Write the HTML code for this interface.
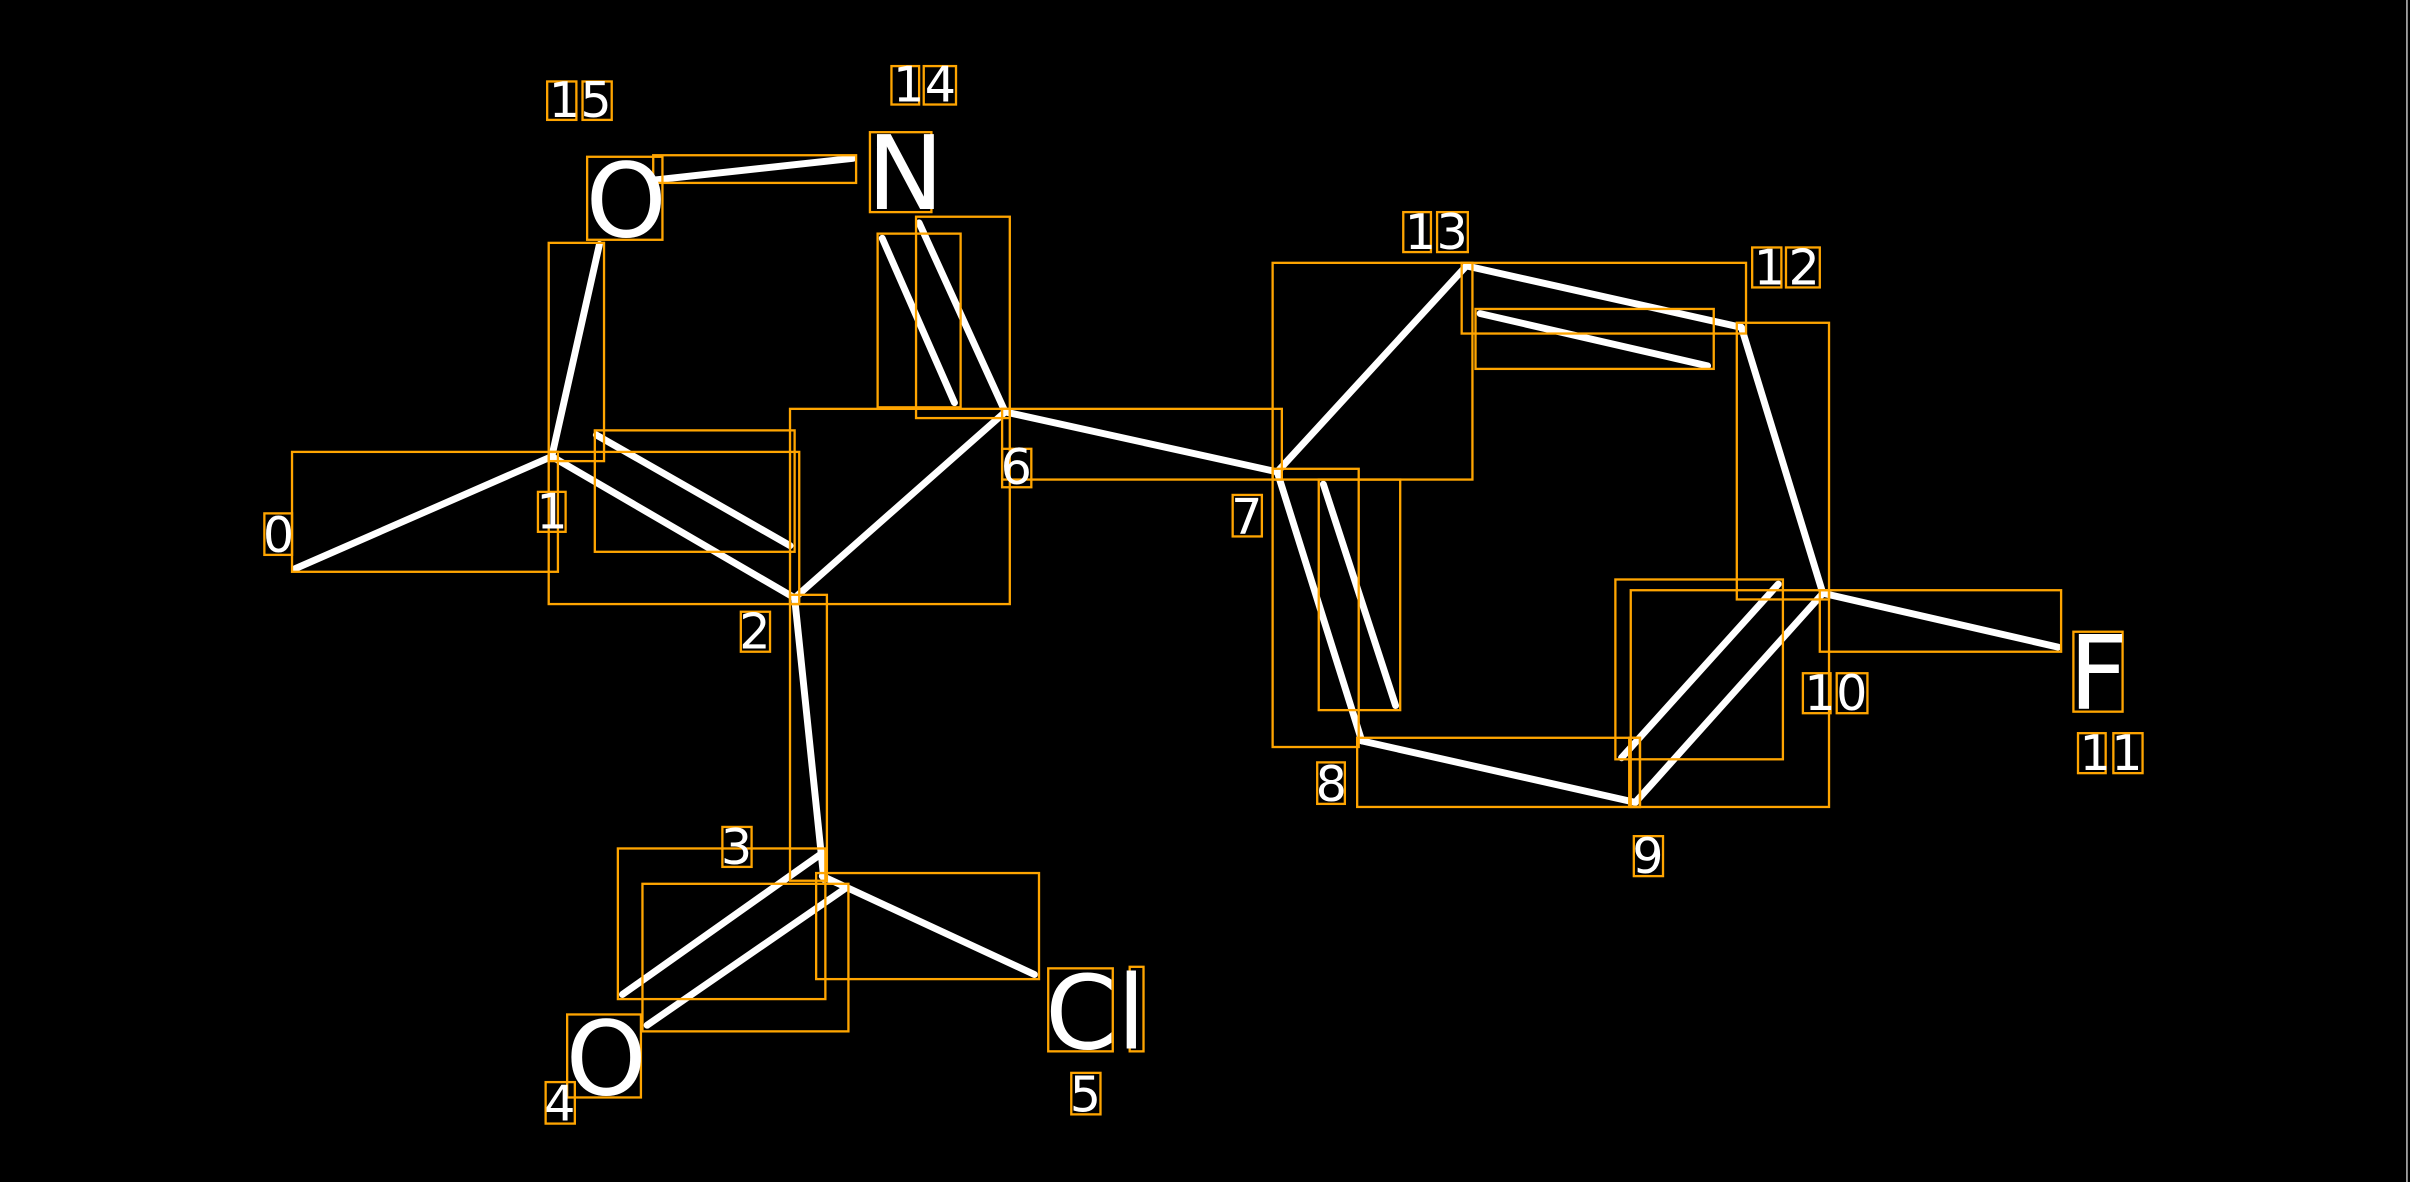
<!DOCTYPE html>
<html><head><meta charset="utf-8"><style>
html,body{margin:0;padding:0;background:#000;}
svg{display:block;}
text{font-family:"DejaVu Sans","Liberation Sans",sans-serif;fill:#fff;}
</style></head><body>
<svg width="2410" height="1182" viewBox="0 0 1568 769" preserveAspectRatio="none" xmlns="http://www.w3.org/2000/svg">
<rect width="1568" height="769" fill="#000"/>
<line x1="1566" y1="0" x2="1566" y2="769" stroke="#bbb" stroke-width="1"/>
<g stroke="#fff" stroke-width="4.5" stroke-linecap="round">
<line x1="192" y1="370" x2="359" y2="297"/>
<line x1="359" y1="297" x2="390" y2="159"/>
<line x1="427" y1="117" x2="555" y2="103"/>
<line x1="598" y1="145" x2="654" y2="268"/>
<line x1="574" y1="155" x2="621" y2="262"/>
<line x1="654" y1="268" x2="517" y2="389"/>
<line x1="359" y1="297" x2="517" y2="389"/>
<line x1="388" y1="283" x2="514" y2="355"/>
<line x1="517" y1="389" x2="536" y2="572"/>
<line x1="535" y1="555" x2="405" y2="647"/>
<line x1="550" y1="578" x2="421" y2="667"/>
<line x1="535" y1="570" x2="673" y2="634"/>
<line x1="654" y1="268" x2="831" y2="307"/>
<line x1="831" y1="307" x2="954" y2="173"/>
<line x1="954" y1="173" x2="1133" y2="213"/>
<line x1="963" y1="204" x2="1111" y2="238"/>
<line x1="1133" y1="213" x2="1186" y2="386"/>
<line x1="1186" y1="386" x2="1339" y2="421"/>
<line x1="1186" y1="386" x2="1064" y2="522"/>
<line x1="1157" y1="380" x2="1055" y2="493"/>
<line x1="1064" y1="522" x2="886" y2="482"/>
<line x1="886" y1="482" x2="831" y2="307"/>
<line x1="861" y1="315" x2="908" y2="459"/>
</g>
<g fill="none" stroke="#ffa500" stroke-width="1.5">
<rect x="190" y="294" width="173" height="78"/>
<rect x="357" y="158" width="36" height="142"/>
<rect x="425" y="101" width="132" height="18"/>
<rect x="596" y="141" width="61" height="131"/>
<rect x="571" y="152" width="54" height="113"/>
<rect x="514" y="266" width="143" height="127"/>
<rect x="357" y="294" width="163" height="99"/>
<rect x="387" y="280" width="130" height="79"/>
<rect x="514" y="387" width="24" height="186"/>
<rect x="402" y="552" width="135" height="98"/>
<rect x="418" y="575" width="134" height="96"/>
<rect x="531" y="568" width="145" height="69"/>
<rect x="652" y="266" width="182" height="46"/>
<rect x="828" y="171" width="130" height="141"/>
<rect x="951" y="171" width="185" height="46"/>
<rect x="960" y="201" width="155" height="39"/>
<rect x="1130" y="210" width="60" height="180"/>
<rect x="1184" y="384" width="157" height="40"/>
<rect x="1061" y="384" width="129" height="141"/>
<rect x="1051" y="377" width="109" height="117"/>
<rect x="883" y="480" width="184" height="45"/>
<rect x="828" y="305" width="56" height="181"/>
<rect x="858" y="312" width="53" height="150"/>
<rect x="1060" y="480" width="7" height="45"/>
<rect x="382" y="102" width="49" height="54"/>
<rect x="566" y="86" width="40" height="52"/>
<rect x="369" y="660" width="48" height="54"/>
<rect x="682" y="630" width="42" height="54"/>
<rect x="735" y="629" width="9" height="55"/>
<rect x="1349" y="411" width="32" height="52"/>
<rect x="356" y="53" width="19" height="25"/><rect x="379" y="53" width="19" height="25"/>
<rect x="580" y="43" width="18" height="25"/><rect x="601" y="43" width="21" height="25"/>
<rect x="913" y="138" width="18" height="26"/><rect x="935" y="138" width="20" height="26"/>
<rect x="1140" y="161" width="19" height="26"/><rect x="1162" y="161" width="22" height="26"/>
<rect x="1173" y="438" width="18" height="26"/><rect x="1195" y="438" width="20" height="26"/>
<rect x="1352" y="477" width="18" height="26"/><rect x="1375" y="477" width="19" height="26"/>
<rect x="172" y="334" width="18" height="27"/>
<rect x="350" y="320" width="18" height="26"/>
<rect x="482" y="398" width="19" height="26"/>
<rect x="470" y="538" width="19" height="26"/>
<rect x="355" y="704" width="19" height="27"/>
<rect x="697" y="698" width="19" height="27"/>
<rect x="652" y="292" width="19" height="25"/>
<rect x="802" y="322" width="19" height="27"/>
<rect x="857" y="496" width="18" height="27"/>
<rect x="1063" y="544" width="19" height="26"/>
</g>
<g font-size="67">
<text x="381" y="154">O</text>
<text x="564" y="136">N</text>
<text x="368" y="712">O</text>
<text x="680" y="682">Cl</text>
<text x="1346" y="461">F</text>
</g>
<g font-size="32">
<text x="357" y="76" textLength="41" lengthAdjust="spacing">15</text>
<text x="581" y="66" textLength="41" lengthAdjust="spacing">14</text>
<text x="914" y="162" textLength="41" lengthAdjust="spacing">13</text>
<text x="1141" y="185" textLength="43" lengthAdjust="spacing">12</text>
<text x="1174" y="462" textLength="41" lengthAdjust="spacing">10</text>
<text x="1353" y="501" textLength="41" lengthAdjust="spacing">11</text>
<text x="171" y="359">0</text>
<text x="349" y="344">1</text>
<text x="481" y="422">2</text>
<text x="469" y="562">3</text>
<text x="354" y="729">4</text>
<text x="696" y="723">5</text>
<text x="651" y="315">6</text>
<text x="801" y="347">7</text>
<text x="856" y="521">8</text>
<text x="1062" y="568">9</text>
</g>
</svg>
</body></html>
